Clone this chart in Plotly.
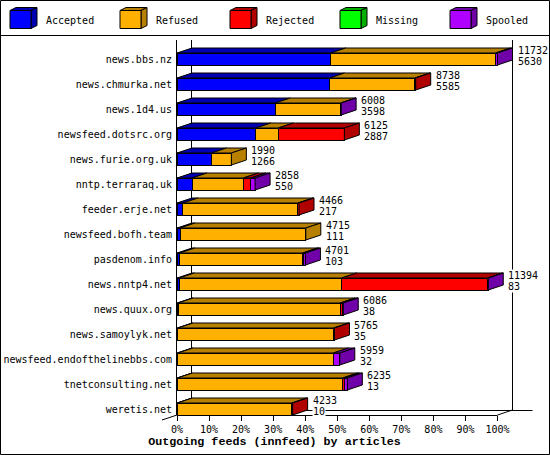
"""Outgoing feeds (innfeed) by articles, stacked pseudo-3D bars using Plotly."""

import plotly.graph_objects as go

WIDTH = 550
HEIGHT = 455

SERVERS = [
    "news.bbs.nz",
    "news.chmurka.net",
    "news.1d4.us",
    "newsfeed.dotsrc.org",
    "news.furie.org.uk",
    "nntp.terraraq.uk",
    "feeder.erje.net",
    "newsfeed.bofh.team",
    "pasdenom.info",
    "news.nntp4.net",
    "news.quux.org",
    "news.samoylyk.net",
    "newsfeed.endofthelinebbs.com",
    "tnetconsulting.net",
    "weretis.net",
]

TOTALS = [11732, 8738, 6008, 6125, 1990, 2858, 4466, 4715, 4701, 11394, 6086, 5765, 5959, 6235, 4233]
ACCEPTED = [5630, 5585, 3598, 2887, 1266, 550, 217, 111, 103, 83, 38, 35, 32, 13, 10]
REFUSED = [6030, 3123, 2395, 821, 724, 1877, 4210, 4604, 4497, 5945, 5930, 5700, 5690, 6050, 4190]
REJECTED = [0, 30, 0, 2417, 0, 270, 39, 0, 40, 5340, 80, 30, 0, 60, 33]
MISSING = [0] * 15
SPOOLED = [72, 0, 15, 0, 0, 161, 0, 0, 61, 26, 38, 0, 237, 112, 0]

SERIES = {
    "Accepted": ACCEPTED,
    "Refused": REFUSED,
    "Rejected": REJECTED,
    "Missing": MISSING,
    "Spooled": SPOOLED,
}
FRONT_COLORS = {
    "Accepted": "#0000ff",
    "Refused": "#ffb000",
    "Rejected": "#ff0000",
    "Missing": "#00ff00",
    "Spooled": "#b000ff",
}
DARK_COLORS = {
    "Accepted": "#0000b0",
    "Refused": "#b88000",
    "Rejected": "#b00000",
    "Missing": "#00b000",
    "Spooled": "#7000a8",
}
LEGEND_LEFT = [10, 120, 230, 340, 450]
X_TICKS = list(range(0, 101, 10))

# plot area in page pixels, the x axis runs past 100% so the depth faces are not clipped
LEFT, AXIS_END, TOP, BOTTOM = 177.0, 497.5, 40.0, 415.0
PLOT_RIGHT = 530.0
DEPTH_PX_X, DEPTH_PX_Y = 15.0, 5.0
ROW_PITCH = 25.0
BAR_HALF = 0.24

MONO = "DejaVu Sans Mono"
px_per_pct = (AXIS_END - LEFT) / 100
dx = DEPTH_PX_X / px_per_pct
dy = DEPTH_PX_Y / ROW_PITCH
scale = 100 / max(TOTALS)
rows = list(range(len(SERVERS)))


def paper_x(px):
    return (px - LEFT) / (PLOT_RIGHT - LEFT)


def paper_y(py):
    return (BOTTOM - py) / (BOTTOM - TOP)


def line_shape(x0, y0, x1, y1):
    return {
        "type": "line",
        "xref": "paper",
        "yref": "paper",
        "x0": paper_x(x0),
        "y0": paper_y(y0),
        "x1": paper_x(x1),
        "y1": paper_y(y1),
        "line": {"color": "black", "width": 1},
        "layer": "below",
    }


def face(xs, ys, color):
    return go.Scatter(
        x=xs,
        y=ys,
        mode="lines",
        fill="toself",
        fillcolor=color,
        line={"color": "black", "width": 1},
        cliponaxis=False,
        hoverinfo="skip",
        showlegend=False,
    )


fig = go.Figure()

for name, values in SERIES.items():
    fig.add_trace(
        go.Bar(
            y=rows,
            x=[v * scale for v in values],
            orientation="h",
            width=BAR_HALF * 2,
            marker={"color": FRONT_COLORS[name], "line": {"color": "black", "width": 1}},
            cliponaxis=False,
            hoverinfo="skip",
            showlegend=False,
        )
    )

# top faces for every segment, one side face at the end of the stack
for row in rows:
    start = 0.0
    last = None
    top = row - BAR_HALF
    bottom = row + BAR_HALF
    for name, values in SERIES.items():
        if values[row] == 0:
            continue
        end = start + values[row] * scale
        fig.add_trace(
            face(
                [start, end, end + dx, start + dx, start],
                [top, top, top - dy, top - dy, top],
                DARK_COLORS[name],
            )
        )
        start = end
        last = name
    fig.add_trace(
        face(
            [start, start + dx, start + dx, start, start],
            [top, top - dy, bottom - dy, bottom, top],
            DARK_COLORS[last],
        )
    )

annotations = []
for row in rows:
    end = TOTALS[row] * scale
    for text, shift in ((TOTALS[row], 9), (ACCEPTED[row], -2)):
        annotations.append(
            {
                "x": end,
                "y": row,
                "xref": "x",
                "yref": "y",
                "text": str(text),
                "showarrow": False,
                "xanchor": "left",
                "yanchor": "middle",
                "xshift": DEPTH_PX_X + 4,
                "yshift": shift,
                "bgcolor": "white",
                "borderpad": 0,
                "font": {"family": MONO, "size": 10, "color": "black"},
            }
        )

floor_y = BOTTOM - DEPTH_PX_Y + 0.5
shapes = [
    line_shape(0.5, 0.5, WIDTH - 0.5, 0.5),
    line_shape(WIDTH - 0.5, 0.5, WIDTH - 0.5, HEIGHT - 0.5),
    line_shape(WIDTH - 0.5, HEIGHT - 0.5, 0.5, HEIGHT - 0.5),
    line_shape(0.5, HEIGHT - 0.5, 0.5, 0.5),
    line_shape(0.5, 35.5, WIDTH - 0.5, 35.5),
    line_shape(LEFT + DEPTH_PX_X - 0.5, TOP, LEFT + DEPTH_PX_X - 0.5, floor_y),
    line_shape(AXIS_END + DEPTH_PX_X, TOP, AXIS_END + DEPTH_PX_X, floor_y),
    line_shape(LEFT + DEPTH_PX_X, floor_y, AXIS_END + 35, floor_y),
    line_shape(LEFT, BOTTOM + 0.5, AXIS_END, BOTTOM + 0.5),
    line_shape(LEFT - DEPTH_PX_X, BOTTOM + DEPTH_PX_Y, LEFT, BOTTOM),
    line_shape(AXIS_END, BOTTOM, AXIS_END + DEPTH_PX_X, BOTTOM - DEPTH_PX_Y),
]

# legend keys are little cubes drawn on the page
for name, left in zip(SERIES, LEGEND_LEFT):
    x0, x1, y0, y1 = left, left + 21, 10.5, 28.5
    off_x, off_y = 6, 3
    for path, color in (
        (
            [(x0, y0), (x1, y0), (x1 + off_x, y0 - off_y), (x0 + off_x, y0 - off_y)],
            DARK_COLORS[name],
        ),
        (
            [(x1, y0), (x1 + off_x, y0 - off_y), (x1 + off_x, y1 - off_y), (x1, y1)],
            DARK_COLORS[name],
        ),
        ([(x0, y0), (x1, y0), (x1, y1), (x0, y1)], FRONT_COLORS[name]),
    ):
        shapes.append(
            {
                "type": "path",
                "xref": "paper",
                "yref": "paper",
                "path": "M "
                + " L ".join(f"{paper_x(a)},{paper_y(b)}" for a, b in path)
                + " Z",
                "fillcolor": color,
                "line": {"color": "black", "width": 1},
            }
        )
    annotations.append(
        {
            "x": paper_x(left + 35),
            "y": paper_y(20),
            "xref": "paper",
            "yref": "paper",
            "text": name,
            "showarrow": False,
            "xanchor": "left",
            "yanchor": "middle",
            "borderpad": 0,
            "font": {"family": MONO, "size": 10, "color": "black"},
        }
    )

fig.update_layout(
    width=WIDTH,
    height=HEIGHT,
    barmode="stack",
    bargap=0.5,
    plot_bgcolor="white",
    paper_bgcolor="white",
    showlegend=False,
    margin={"l": LEFT, "r": WIDTH - PLOT_RIGHT, "t": TOP, "b": HEIGHT - BOTTOM, "pad": 0, "autoexpand": False},
    title={
        "text": "<b>Outgoing feeds (innfeed) by articles</b>",
        "x": 274.5 / WIDTH,
        "xanchor": "center",
        "y": 1 - 441 / HEIGHT,
        "yanchor": "middle",
        "font": {"family": "Liberation Mono", "size": 11.7, "color": "black"},
    },
    shapes=shapes,
    annotations=annotations,
)
fig.update_xaxes(
    range=[0, (PLOT_RIGHT - LEFT) / px_per_pct],
    tickvals=X_TICKS,
    ticktext=[f"{t}%" for t in X_TICKS],
    ticks="outside",
    ticklen=5,
    tickcolor="black",
    tickwidth=1,
    showgrid=False,
    zeroline=False,
    showline=False,
    tickfont={"family": MONO, "size": 10, "color": "black"},
)
fig.update_yaxes(
    range=[14.24, -0.76],
    tickvals=rows,
    ticktext=SERVERS,
    ticks="",
    ticklabelstandoff=2,
    showgrid=False,
    zeroline=False,
    showline=True,
    linecolor="black",
    linewidth=1,
    tickfont={"family": MONO, "size": 10, "color": "black"},
)

# the page must start at the window corner, the browser default is an 8px body margin
fig.write_html(
    "out.html",
    config={"displayModeBar": False},
    post_script="document.body.style.margin = '0';",
)
